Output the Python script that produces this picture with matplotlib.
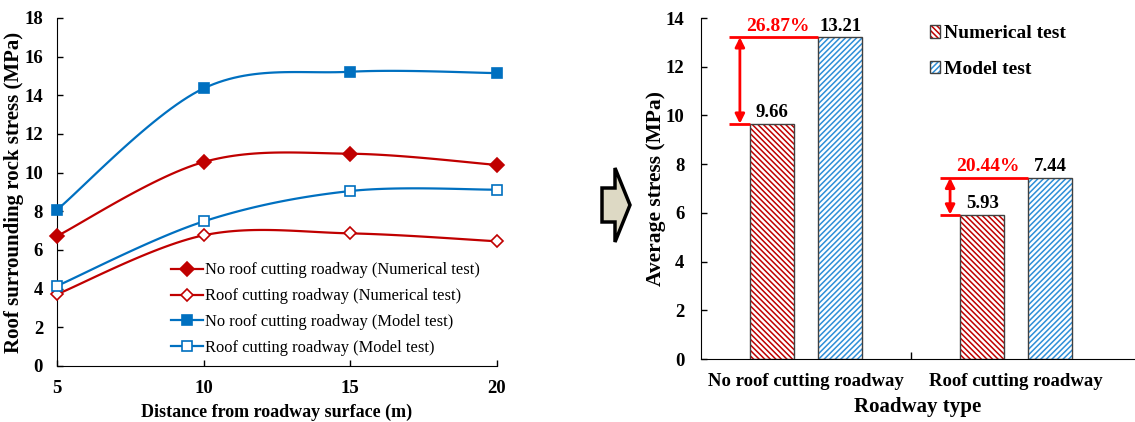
import numpy as np
import matplotlib
matplotlib.use("Agg")
import matplotlib.pyplot as plt
from matplotlib.patches import Polygon, Patch

plt.rcParams['font.family'] = ['Liberation Serif', 'DejaVu Serif']
plt.rcParams['hatch.linewidth'] = 1.1

# left chart data
distance = [5, 10, 15, 20]
no_cut_num = [6.72, 10.55, 10.98, 10.40]
cut_num = [3.71, 6.76, 6.86, 6.45]
no_cut_model = [8.08, 14.36, 15.22, 15.15]
cut_model = [4.14, 7.48, 9.05, 9.12]
line_labels = ["No roof cutting roadway (Numerical test)",
               "Roof cutting roadway (Numerical test)",
               "No roof cutting roadway (Model test)",
               "Roof cutting roadway (Model test)"]

# right chart data
roadway_types = ["No roof cutting roadway", "Roof cutting roadway"]
numerical_avg = [9.66, 5.93]
model_avg = [13.21, 7.44]
diff_labels = ["26.87%", "20.44%"]

RED = "#C00000"
BLUE = "#0070C0"
HBLUE = "#2E8FD8"
RHATCH = "\\" * 6
BHATCH = "/" * 6


def smooth(x, y, n=30):
    # excel-style smoothed line (bezier through the points)
    x = np.asarray(x, float)
    y = np.asarray(y, float)
    px = np.concatenate([[x[0]], x, [x[-1]]])
    py = np.concatenate([[y[0]], y, [y[-1]]])
    xs, ys = [], []
    t = np.linspace(0, 1, n)
    for i in range(1, len(px) - 2):
        p0 = np.array([px[i], py[i]])
        p3 = np.array([px[i + 1], py[i + 1]])
        p1 = p0 + (np.array([px[i + 1], py[i + 1]]) - np.array([px[i - 1], py[i - 1]])) / 6
        p2 = p3 - (np.array([px[i + 2], py[i + 2]]) - np.array([px[i], py[i]])) / 6
        b = ((1 - t) ** 3)[:, None] * p0 + (3 * (1 - t) ** 2 * t)[:, None] * p1 \
            + (3 * (1 - t) * t ** 2)[:, None] * p2 + (t ** 3)[:, None] * p3
        xs.extend(b[:, 0])
        ys.extend(b[:, 1])
    return xs, ys


fig = plt.figure(figsize=(11.35, 4.22), dpi=100)
ax1 = fig.add_axes([57 / 1135, 1 - 366 / 422, 440 / 1135, 348 / 422])

styles = [
    (no_cut_num, RED, "D", RED, 7),
    (cut_num, RED, "D", "white", 6),
    (no_cut_model, BLUE, "s", BLUE, 7.5),
    (cut_model, BLUE, "s", "white", 7),
]
for (vals, c, m, fc, ms), lab in zip(styles, line_labels):
    sx, sy = smooth(distance, vals)
    ax1.plot(sx, sy, color=c, lw=1.6, zorder=2)
    ax1.plot(distance, vals, ls="none", marker=m, ms=ms, mfc=fc, mec=c, mew=1.2, zorder=3,
             clip_on=False)
    ax1.plot([], [], color=c, lw=1.6, marker=m, ms=ms, mfc=fc, mec=c, mew=1.2, label=lab)

ax1.set_xlim(5, 20)
ax1.set_ylim(0, 18)
ax1.set_xticks(distance)
ax1.set_yticks(np.arange(0, 19, 2))
ax1.tick_params(axis="y", direction="in", length=4, labelsize=13.5, width=1, pad=10)
ax1.tick_params(axis="x", direction="in", length=4, labelsize=13.5, width=1, pad=10)
for lab in ax1.get_xticklabels() + ax1.get_yticklabels():
    lab.set_fontweight("bold")
for s in ["top", "right"]:
    ax1.spines[s].set_visible(False)
ax1.set_xlabel("Distance from roadway surface (m)", fontsize=13, fontweight="bold", labelpad=5)
ax1.set_ylabel("Roof surrounding rock stress (MPa)", fontsize=15, fontweight="bold", labelpad=0)
ax1.legend(loc="lower left", bbox_to_anchor=(0.232, -0.005), frameon=False, fontsize=11.9,
           handlelength=1.95, handletextpad=0.15, labelspacing=0.6, borderaxespad=0.3)

# block arrow between the charts
arrow_px = np.array([[602, 188], [615, 188], [615, 168], [630, 205], [615, 242],
                     [615, 222], [602, 222]], float)
arrow_px[:, 1] = 422 - arrow_px[:, 1]
arrow = Polygon(arrow_px / 100, closed=True, transform=fig.dpi_scale_trans,
                facecolor="#DDD9C4", edgecolor="black", lw=2.5)
fig.patches.append(arrow)

# right chart
ax2 = fig.add_axes([701 / 1135, 1 - 359 / 422, 433 / 1135, 341 / 422])
x = np.arange(len(roadway_types))
w = 0.21
off = 0.162
ax2.bar(x - off, numerical_avg, w, color="white", edgecolor=RED, hatch=RHATCH, lw=0, zorder=2)
ax2.bar(x - off, numerical_avg, w, color="none", edgecolor="#404040", lw=1.0, zorder=3)
ax2.bar(x + off, model_avg, w, color="white", edgecolor=HBLUE, hatch=BHATCH, lw=0, zorder=2)
ax2.bar(x + off, model_avg, w, color="none", edgecolor="#404040", lw=1.0, zorder=3)

for i in range(len(x)):
    ax2.text(x[i] - off, numerical_avg[i] + 0.1, f"{numerical_avg[i]:.2f}", ha="center", va="bottom",
             fontsize=13.5, fontweight="bold")
    ax2.text(x[i] + off, model_avg[i] + 0.1, f"{model_avg[i]:.2f}", ha="center", va="bottom",
             fontsize=13.5, fontweight="bold")
    x0 = x[i] - 0.365
    ax2.hlines(model_avg[i], x0, x[i] + off - w / 2, color="red", lw=2, zorder=4)
    ax2.hlines(numerical_avg[i], x0, x[i] - off - w / 2, color="red", lw=2, zorder=4)
    ax2.annotate("", xy=(x0 + 0.05, numerical_avg[i]), xytext=(x0 + 0.05, model_avg[i]),
                 arrowprops=dict(arrowstyle="<|-|>", color="red", lw=2, mutation_scale=14,
                                 shrinkA=0, shrinkB=0), zorder=4)
    ax2.text(x[i] - 0.135, model_avg[i] + 0.1, diff_labels[i], ha="center", va="bottom",
             fontsize=14, fontweight="bold", color="red")

ax2.set_xlim(-0.5, 1.56)
ax2.set_ylim(0, 14)
ax2.set_yticks(np.arange(0, 15, 2))
ax2.set_xticks(x)
ax2.set_xticklabels(roadway_types)
ax2.set_xticks([0.5], minor=True)
ax2.tick_params(axis="x", which="major", length=0, labelsize=13.5, pad=10)
ax2.tick_params(axis="x", which="minor", direction="in", length=5, width=1)
ax2.tick_params(axis="y", direction="in", length=4, labelsize=13.5, width=1, pad=12)
for lab in ax2.get_xticklabels() + ax2.get_yticklabels():
    lab.set_fontweight("bold")
for s in ["top", "right"]:
    ax2.spines[s].set_visible(False)
ax2.set_xlabel("Roadway type", fontsize=15, fontweight="bold", labelpad=5)
ax2.set_ylabel("Average stress (MPa)", fontsize=15.5, fontweight="bold", labelpad=0)

handles = [(Patch(facecolor="white", edgecolor=RED, hatch=RHATCH, lw=0),
            Patch(facecolor="none", edgecolor="#404040", lw=1.0)),
           (Patch(facecolor="white", edgecolor=HBLUE, hatch=BHATCH, lw=0),
            Patch(facecolor="none", edgecolor="#404040", lw=1.0))]
leg = ax2.legend(handles, ["Numerical test", "Model test"], loc="upper left",
                 bbox_to_anchor=(0.489, 1.03), frameon=False, handlelength=0.5, handleheight=0.6,
                 handletextpad=0.2, labelspacing=0.95, prop=dict(size=14, weight="bold"))

fig.savefig("out.png", dpi=100)
